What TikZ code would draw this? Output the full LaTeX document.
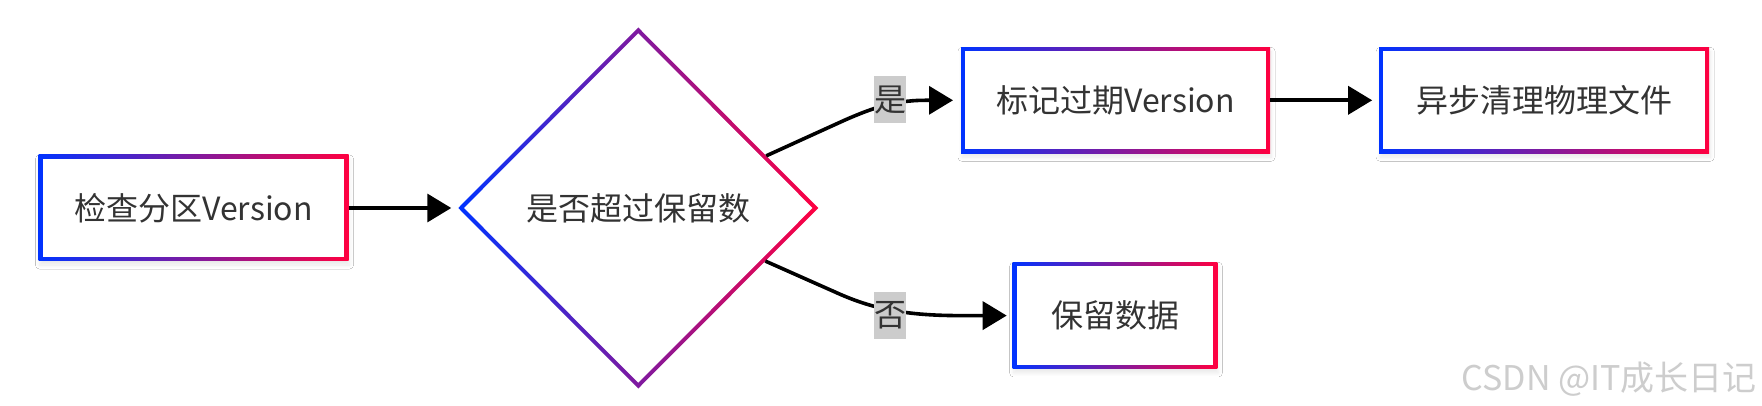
\documentclass[tikz,border=0pt]{standalone}
\usepackage{fontspec}
\newfontfamily\cjk{Noto Sans CJK SC}
\usetikzlibrary{shapes.geometric,arrows.meta,calc,shadows.blur}
\definecolor{gblue}{RGB}{0,51,255}
\definecolor{gred}{RGB}{255,0,64}
\definecolor{txt}{RGB}{51,51,51}
\definecolor{lblbg}{RGB}{204,204,204}
\definecolor{wm}{RGB}{205,205,205}
\tikzset{
  mainfont/.style={font=\cjk\fontsize{32}{38}\selectfont},
  gbox/.style={rectangle, inner sep=0pt, outer sep=0pt, left color=gblue, right color=gred,
    text=txt, mainfont,
    blur shadow={shadow xshift=1pt, shadow yshift=-4pt, shadow blur radius=4pt, shadow blur steps=12, shadow opacity=9},
    path picture={\fill[white] ([shift={(4.2pt,-4.2pt)}]path picture bounding box.north west)
       rectangle ([shift={(-4.2pt,4.2pt)}]path picture bounding box.south east);}},
  gdia/.style={diamond, aspect=1, inner sep=0pt, outer sep=0pt, left color=gblue, right color=gred,
    text=txt, mainfont, minimum width=360pt, minimum height=361pt,
    path picture={\fill[white] ($(path picture bounding box.north)+(0,-5.8pt)$)
       -- ($(path picture bounding box.east)+(-5.8pt,0)$)
       -- ($(path picture bounding box.south)+(0,5.8pt)$)
       -- ($(path picture bounding box.west)+(5.8pt,0)$) -- cycle;}},
  conn/.style={line width=3.6pt, draw=black, -{Triangle[length=24pt,width=28pt]}},
  lbl/.style={fill=lblbg, inner sep=0pt, minimum width=31.5pt, minimum height=47pt, text=txt, mainfont}
}
\begin{document}
\begin{tikzpicture}[x=1pt,y=-1pt]
\useasboundingbox[fill=white] (0,0) rectangle (1762,406);
% nodes
\node[gbox, minimum width=310pt, minimum height=106pt] (b1) at (193.5,208) {检查分区Version};
\node[gdia] (dia) at (638.25,208) {是否超过保留数};
\node[gbox, minimum width=309pt, minimum height=106pt] (b2) at (1115.5,100.3) {标记过期Version};
\node[gbox, minimum width=330pt, minimum height=106pt] (b3) at (1544.2,100.3) {异步清理物理文件};
\node[gbox, minimum width=204.6pt, minimum height=106.7pt] (b4) at (1115,315.6) {保留数据};
% connectors
\coordinate (ys) at ($(dia.north)!0.711!(dia.east)$);
\coordinate (ns) at ($(dia.east)!0.294!(dia.south)$);
\draw[conn, shorten >=7pt] (b1.east) -- (dia.west);
\draw[conn, shorten >=8pt] (ys) -- (845,120) .. controls (868,110) and (892,100.3) .. (925,100.3) -- (b2.west);
\draw[conn, shorten >=6pt] (ns) -- (835,292) .. controls (868,307) and (900,315.6) .. (960,315.6) -- (b4.west);
\draw[conn, shorten >=7pt] (b2.east) -- (b3.west);
% labels
\node[lbl] (lyes) at (890,100) {是};
\node[lbl] (lno) at (890,315.5) {否};
% watermark
\node[anchor=base east, inner sep=0pt, text=wm, font=\cjk\fontsize{34}{40}\selectfont] (wmk) at (1757,390) {CSDN @IT成长日记};
\end{tikzpicture}
\end{document}
